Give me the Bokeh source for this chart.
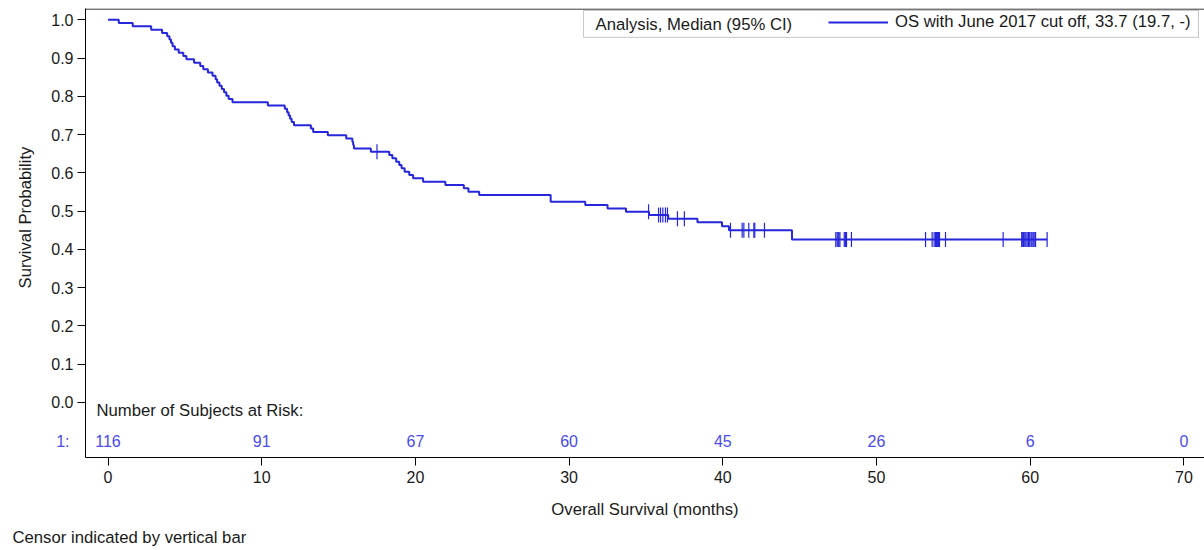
import numpy as np
from bokeh.plotting import figure
from bokeh.models import (Range1d, FixedTicker, NumeralTickFormatter, Legend, LegendItem,
                          Label, BoxAnnotation, Span, Title, ColumnDataSource, LinearAxis,
                          CustomJSTickFormatter)
from bokeh.core.properties import value
from bokeh.embed import file_html
from bokeh.resources import INLINE

# ---------------- data ----------------
step_times = [0, 0.70, 1.61, 2.81, 3.52, 3.85, 4.0, 4.1, 4.2, 4.35, 4.6, 4.9, 5.1, 5.6, 6.0,
              6.2, 6.5, 6.8, 7.0, 7.1, 7.25, 7.4, 7.55, 7.7, 7.85, 8.1,
              10.4, 11.5, 11.65, 11.75, 11.85, 11.95, 12.1, 13.2, 13.35, 14.3, 15.5, 15.9,
              15.95, 16.0, 17.1, 18.3, 18.5, 18.75, 18.95, 19.1, 19.3, 19.6, 19.85, 20.5,
              21.95, 23.15, 23.45, 24.15, 28.8, 31.05, 32.5, 33.7, 35.2, 36.45, 38.35,
              39.95, 40.4, 44.5, 61.1]
step_surv = [1.0, 0.9914, 0.9828, 0.9741, 0.9655, 0.9569, 0.9483, 0.9397, 0.9310, 0.9224,
             0.9138, 0.9052, 0.8966, 0.8879, 0.8793, 0.8707, 0.8621, 0.8534, 0.8448, 0.8362,
             0.8276, 0.8190, 0.8103, 0.8017, 0.7931, 0.7845,
             0.7759, 0.7672, 0.7586, 0.7500, 0.7414, 0.7328, 0.7241, 0.7155, 0.7069, 0.6983,
             0.6897, 0.6810, 0.6724, 0.6638, 0.6552, 0.6465, 0.6378, 0.6292, 0.6205, 0.6118,
             0.6031, 0.5944, 0.5857, 0.5770, 0.5682, 0.5595, 0.5507, 0.5420, 0.5245, 0.5158,
             0.5070, 0.4983, 0.4896, 0.4802, 0.4706, 0.4604, 0.4502, 0.4259, 0.4259]
censor_times = [17.5, 35.17, 35.82, 35.95, 36.1, 36.27, 36.4, 37.05, 37.5, 40.5, 41.26, 41.37,
                41.69, 42.02, 42.08, 42.71, 47.35, 47.44, 47.5, 47.55, 47.62, 47.9, 47.98,
                48.05, 48.37, 53.19, 53.62, 53.75, 53.84, 53.9, 53.97, 54.03, 54.1, 54.49,
                58.24, 59.45, 59.48, 59.55, 59.58, 59.65, 59.72, 59.8, 59.88, 59.92, 59.97,
                60.06, 60.12, 60.2, 60.3, 60.35, 61.1]
risk_times = [0, 10, 20, 30, 40, 50, 60, 70]
risk_counts = [116, 91, 67, 60, 45, 26, 6, 0]
x_ticks = [0, 10, 20, 30, 40, 50, 60, 70]
y_ticks = [0.0, 0.1, 0.2, 0.3, 0.4, 0.5, 0.6, 0.7, 0.8, 0.9, 1.0]
series_label = "OS with June 2017 cut off, 33.7 (19.7, -)"
legend_header = "Analysis, Median (95% CI)"
risk_header = "Number of Subjects at Risk:"
risk_group = "1:"
x_title = "Overall Survival (months)"
y_title = "Survival Probability"
footnote = "Censor indicated by vertical bar"

# ---------------- style ----------------
FONT = "Liberation Sans"
FS = "16px"
FS_T = "16.7px"
BLUE = "#2626dc"
RISK_BLUE = "#4a4aee"
TEXT = "#1a1a1a"
RISK_Y = -0.102
X0, X1 = -1.464, 71.34

idx = np.searchsorted(step_times, censor_times, side="right") - 1
censor_surv = [step_surv[i] for i in idx]

p = figure(width=1204, height=550, output_backend="svg", toolbar_location=None,
           x_range=Range1d(X0, X1), y_range=Range1d(-0.1439, 1.0294),
           min_border_left=85, min_border_right=0, min_border_top=8, min_border_bottom=91)
p.outline_line_color = None
p.grid.visible = False
p.background_fill_color = "white"
p.border_fill_color = "white"

p.xaxis.ticker = FixedTicker(ticks=x_ticks)
p.yaxis.ticker = FixedTicker(ticks=y_ticks)
p.yaxis.formatter = NumeralTickFormatter(format="0.0")
for ax in (p.xaxis[0], p.yaxis[0]):
    ax.minor_tick_line_color = None
    ax.major_tick_in = 0
    ax.major_tick_out = 8
    ax.major_label_text_font = FONT
    ax.major_label_text_font_size = FS
    ax.major_label_text_color = TEXT
    ax.axis_line_color = "black"
    ax.major_tick_line_color = "black"
p.xaxis.major_label_standoff = 5
p.yaxis.major_label_standoff = 4
p.xaxis.axis_label = x_title
p.xaxis.axis_label_text_font = FONT
p.xaxis.axis_label_text_font_size = FS_T
p.xaxis.axis_label_text_font_style = "normal"
p.xaxis.axis_label_text_color = TEXT
p.xaxis.axis_label_standoff = 14

# group label of the at-risk row, outside the frame on the left
risk_axis = LinearAxis(ticker=FixedTicker(ticks=[RISK_Y]),
                       formatter=CustomJSTickFormatter(code="return '%s';" % risk_group),
                       axis_line_color=None, major_tick_line_color=None,
                       minor_tick_line_color=None, major_tick_out=0, major_tick_in=0,
                       major_label_standoff=-21,
                       major_label_text_font=FONT, major_label_text_font_size=FS,
                       major_label_text_color=RISK_BLUE)
p.add_layout(risk_axis, "left")

p.add_layout(Title(text=y_title, align="left", offset=169, standoff=27,
                   text_font=FONT, text_font_size=FS_T, text_font_style="normal",
                   text_color=TEXT), "left")
p.add_layout(Title(text=footnote, align="left", offset=-73, standoff=8,
                   text_font=FONT, text_font_size=FS_T, text_font_style="normal",
                   text_color=TEXT), "below")

p.add_layout(Span(location=1.028, dimension="width", line_color="black", line_width=1))

r = p.step(step_times, step_surv, mode="after", line_color=BLUE, line_width=2)
p.scatter(censor_times, censor_surv, marker="dash", angle=np.pi / 2, size=15,
          line_color=BLUE, line_width=1.2)

src = ColumnDataSource(dict(x=risk_times, y=[RISK_Y] * len(risk_times),
                            t=[str(c) for c in risk_counts]))
p.text("x", "y", text="t", source=src, text_align="center", text_baseline="middle",
       text_font=value(FONT), text_font_size=FS, text_color=RISK_BLUE)
p.add_layout(Label(x=-0.75, y=-0.021, text=risk_header, text_align="left",
                   text_baseline="middle", text_font=FONT, text_font_size=FS_T,
                   text_color=TEXT))

# legend box
p.add_layout(BoxAnnotation(left=30.94, right=70.95, top=1.0242, bottom=0.954,
                           fill_color=None, line_color="#444444", line_width=1))
p.add_layout(Label(x=31.72, y=0.988, text=legend_header, text_align="left",
                   text_baseline="middle", text_font=FONT, text_font_size=FS_T,
                   text_color=TEXT))
legend = Legend(items=[LegendItem(label=series_label, renderers=[r])], location="top_right",
                orientation="horizontal", border_line_color=None, background_fill_alpha=0,
                padding=2, margin=2, glyph_width=60, glyph_height=24, label_height=24,
                label_standoff=7, label_width=307, spacing=0,
                label_text_font=FONT, label_text_font_size=FS_T, label_text_color=TEXT)
p.add_layout(legend)

open("out.html", "w").write(file_html(p, INLINE))
